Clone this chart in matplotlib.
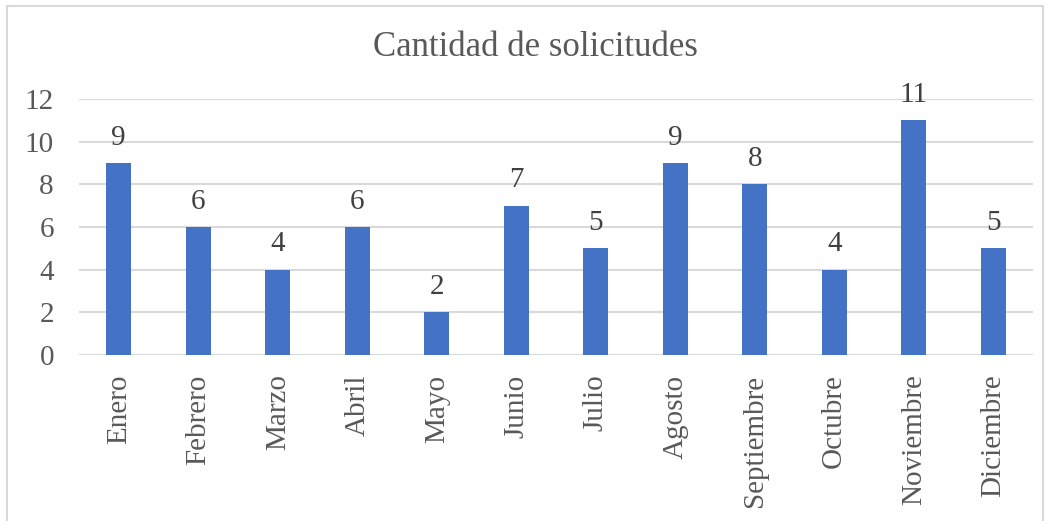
import matplotlib.pyplot as plt
import matplotlib.patches as mpatches

# datos del gráfico
meses = ["Enero", "Febrero", "Marzo", "Abril", "Mayo", "Junio", "Julio",
         "Agosto", "Septiembre", "Octubre", "Noviembre", "Diciembre"]
solicitudes = [9, 6, 4, 6, 2, 7, 5, 9, 8, 4, 11, 5]
ticks_y = [0, 2, 4, 6, 8, 10, 12]

plt.rcParams['font.family'] = ['Liberation Serif', 'DejaVu Serif']

fig = plt.figure(figsize=(10.49, 5.21), dpi=100)
ax = fig.add_axes([79 / 1049, 1 - 355 / 521, (1033 - 79) / 1049, (355 - 99) / 521])

x = range(len(meses))
barras = ax.bar(x, solicitudes, width=0.31, color="#4472C4", zorder=3)
ax.bar_label(barras, padding=9, fontsize=21, color="#404040")

ax.set_xlim(-0.5, len(meses) - 0.5)
ax.set_ylim(0, 12)
ax.set_yticks(ticks_y)
ax.set_xticks(list(x))
ax.set_xticklabels(meses, rotation=90)
ax.tick_params(axis="x", length=0, pad=14, labelsize=21, labelcolor="#595959")
ax.tick_params(axis="y", length=0, pad=18, labelsize=21, labelcolor="#595959")
ax.grid(axis="y", color="#D9D9D9", linewidth=1.5, zorder=0)
for s in ax.spines.values():
    s.set_visible(False)

fig.text(535 / 1049, 1 - 48 / 521, "Cantidad de solicitudes", ha="center",
         va="center", fontsize=25, color="#595959")

# borde del área del gráfico
fig.patches.append(mpatches.Rectangle((7 / 1049, -0.02), 1036 / 1049, 1 - 6 / 521 + 0.02,
                                      transform=fig.transFigure, fill=False,
                                      edgecolor="#D9D9D9", linewidth=1.5))

fig.savefig("out.png", dpi=100)
